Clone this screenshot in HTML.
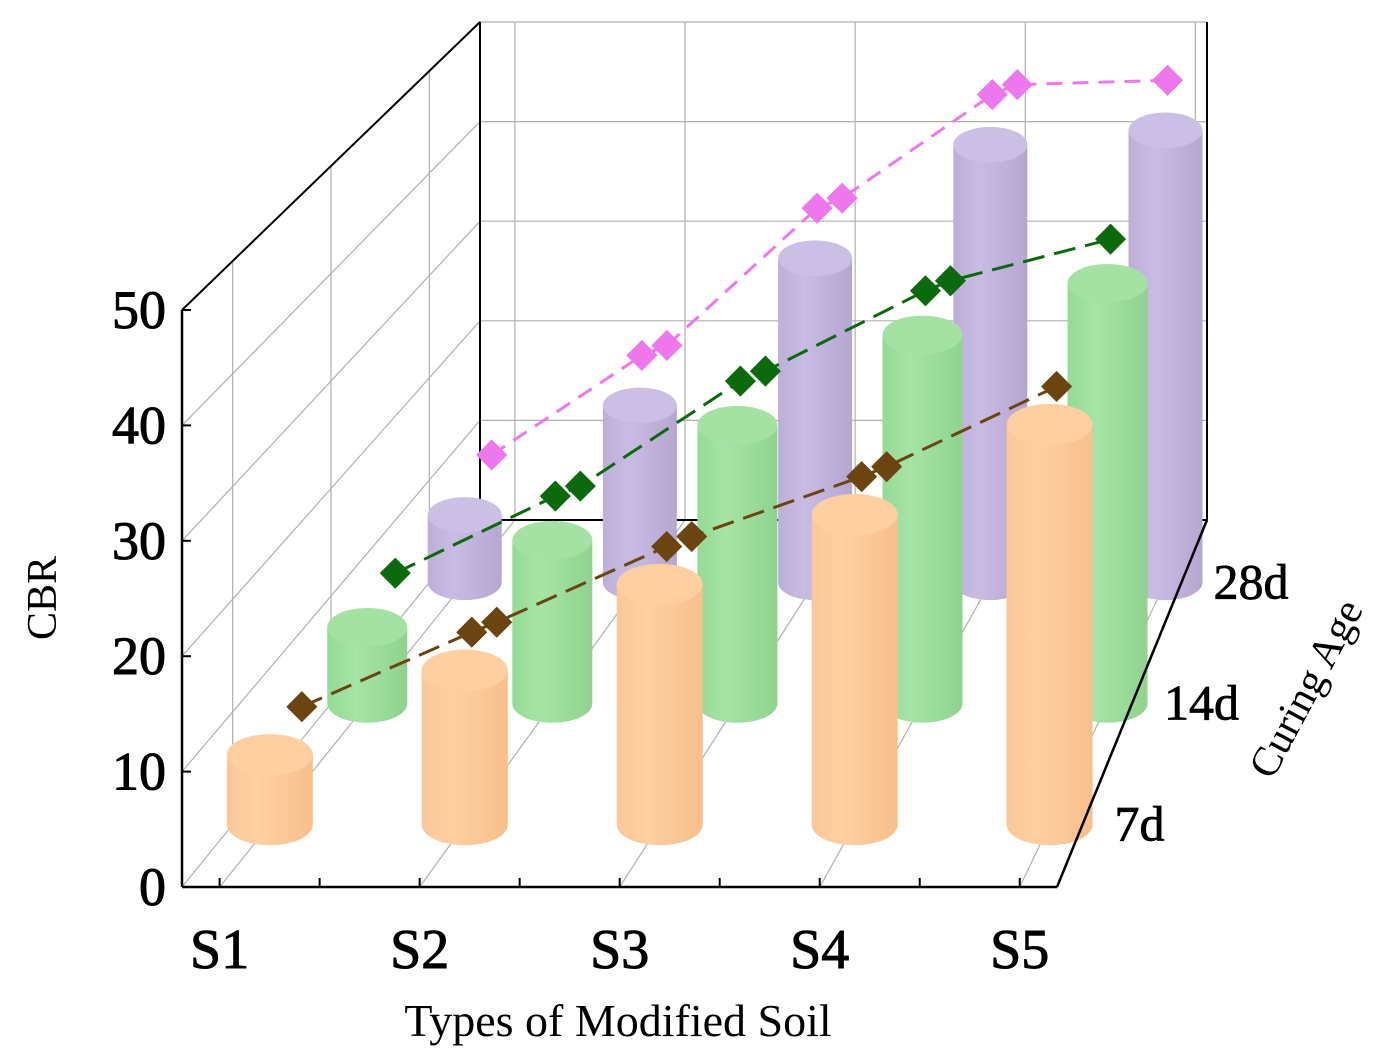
<!DOCTYPE html>
<html><head><meta charset="utf-8"><style>
html,body{margin:0;padding:0;background:#fff;}
svg{display:block;font-family:"Liberation Serif",serif;}
</style></head><body>
<svg id="chart" width="1382" height="1060" viewBox="0 0 1382 1060" xmlns="http://www.w3.org/2000/svg">
<defs>
<linearGradient id="gO" x1="0" x2="1"><stop offset="0" stop-color="#fbc798"/><stop offset="0.35" stop-color="#ffd0a2"/><stop offset="1" stop-color="#f7bf8c"/></linearGradient>
<linearGradient id="gG" x1="0" x2="1"><stop offset="0" stop-color="#94da94"/><stop offset="0.35" stop-color="#a6e4a6"/><stop offset="1" stop-color="#8fd28f"/></linearGradient>
<linearGradient id="gP" x1="0" x2="1"><stop offset="0" stop-color="#bcaed8"/><stop offset="0.35" stop-color="#c9bce3"/><stop offset="1" stop-color="#b6a6d2"/></linearGradient>
</defs>
<g id="grid"></g>
<g id="marks"></g>
<g id="axes"></g>
</svg>
<script>
const categories = ["S1","S2","S3","S4","S5"];
const ages = ["7d","14d","28d"];
const values7d = [6.2, 13.7, 21.3, 27.5, 35.5];
const values14d = [7.1, 15.2, 25.9, 34.3, 39.1];
const values28d = [6.6, 17.3, 31.7, 42.8, 44.2];
const yTicks = [0,10,20,30,40,50];

const NS = "http://www.w3.org/2000/svg";
function mk(tag, attrs, parent){const e=document.createElementNS(NS,tag);for(const k in attrs)e.setAttribute(k,attrs[k]);parent.appendChild(e);return e;}
const YMAX=50;
function proj(xi,v,d,xb){
  if(xb===undefined) xb=xi;
  const fx=182+xi*875, fy=887-v/YMAX*577;
  const bx=480+xb*727, by=520-v/YMAX*498;
  return [fx+(bx-fx)*d, fy+(by-fy)*d];
}
function catX(i){return 0.043+0.2286*i;}
function catXB(i){return 0.048+0.234*i;}
function cproj(i,v,d){return proj(catX(i),v,d,catXB(i));}
const depths=[0.17,0.5,0.83];
const grid=document.getElementById('grid'), marks=document.getElementById('marks'), axes=document.getElementById('axes');
const gc="#b0b0b0";
yTicks.forEach(t=>{const a=proj(0,t,1),b=proj(1,t,1);const l=mk('line',{x1:a[0],y1:a[1],x2:b[0],y2:b[1],stroke:gc,'stroke-width':1.2},grid);
});
categories.forEach((c,i)=>{const a=cproj(i,0,1),b=cproj(i,YMAX,1);const l=mk('line',{x1:a[0],y1:a[1],x2:b[0],y2:b[1],stroke:gc,'stroke-width':1.2},grid);
});
yTicks.forEach(t=>{const a=proj(0,t,0),b=proj(0,t,1);const l=mk('line',{x1:a[0],y1:a[1],x2:b[0],y2:b[1],stroke:gc,'stroke-width':1.2},grid);
});
depths.forEach(d=>{const a=proj(0,0,d),b=proj(0,YMAX,d);const l=mk('line',{x1:a[0],y1:a[1],x2:b[0],y2:b[1],stroke:gc,'stroke-width':1.2},grid);
});
categories.forEach((c,i)=>{const a=cproj(i,0,0),b=cproj(i,0,1);const l=mk('line',{x1:a[0],y1:a[1],x2:b[0],y2:b[1],stroke:gc,'stroke-width':1.2},grid);
});
[[[0,0,1],[0,YMAX,1]],[[0,YMAX,0],[0,YMAX,1]],[[0,0,1],[1,0,1]],[[1,0,1],[1,0,0]],[[1,0,1],[1,YMAX,1]]].forEach(p=>{
 const a=proj(...p[0]),b=proj(...p[1]);const l=mk('line',{x1:a[0],y1:a[1],x2:b[0],y2:b[1],stroke:'#000','stroke-width':2},grid);
 });

const series=[
 {vals:values28d,d:0.83,fill:'url(#gP)',top:'#cbbfe6',w:74,mc:'#ee77ee',off:[27,-60],dash:'16,10',name:'28d'},
 {vals:values14d,d:0.5,fill:'url(#gG)',top:'#a4e2a4',w:80,mc:'#0b6a0b',off:[28,-54],dash:'22,10',name:'14d'},
 {vals:values7d,d:0.17,fill:'url(#gO)',top:'#ffcf9f',w:86,mc:'#6b4410',off:[32,-48],dash:'22,10',name:'7d'}
];
series.forEach(s=>{
 const g=mk('g',{},marks);
 
 
 const pts=[];
 s.vals.forEach((v,i)=>{
  const b=cproj(i,0,s.d), t=cproj(i,v,s.d);
  const w=s.w, ry=w*0.24;
  const bx=b[0], tx=t[0];
  const cyl=mk('path',{d:`M${bx-w/2},${b[1]} A${w/2},${ry} 0 0 0 ${bx+w/2},${b[1]} L${tx+w/2},${t[1]} L${tx-w/2},${t[1]} Z`,fill:s.fill},g);
  
  
  const top=mk('ellipse',{cx:tx,cy:t[1],rx:w/2,ry:ry,fill:s.top},g);
  
  
  const p2=[tx+s.off[0], t[1]+s.off[1]];
  const p1=[p2[0]-25, p2[1]+10];
  if(i>0) pts.push(p1);
  if(i<s.vals.length-1) pts.push(p2);
 });
 const ln=mk('polyline',{points:pts.map(p=>p.join(',')).join(' '),fill:'none',stroke:s.mc,'stroke-width':3,'stroke-dasharray':s.dash},g);
 
 
 pts.forEach(p=>{const m=mk('rect',{x:p[0]-11,y:p[1]-11,width:22,height:22,fill:s.mc,transform:`rotate(45 ${p[0]} ${p[1]})`},g);
  
  });
});

[[[0,0,0],[0,YMAX,0]],[[0,0,0],[1,0,0]],[[1,0,0],[1,0,1]]].forEach(p=>{
 const a=proj(...p[0]),b=proj(...p[1]);const l=mk('line',{x1:a[0],y1:a[1],x2:b[0],y2:b[1],stroke:'#000','stroke-width':2.5},axes);
 });
yTicks.forEach(t=>{const a=proj(0,t,0);
 const tk=mk('line',{x1:a[0],y1:a[1],x2:a[0]+9,y2:a[1],stroke:'#000','stroke-width':2},axes);
 
 const tx=mk('text',{x:a[0]-16,y:a[1]+18,'text-anchor':'end','font-size':54,stroke:'#000','stroke-width':1},axes);tx.textContent=t;
 });
categories.forEach((c,i)=>{const a=cproj(i,0,0);
 const tk=mk('line',{x1:a[0],y1:a[1],x2:a[0],y2:a[1]-9,stroke:'#000','stroke-width':2},axes);
 
 if(i<categories.length-1){const m=proj(catX(i)+0.1143,0,0);
  const t2=mk('line',{x1:m[0],y1:m[1],x2:m[0],y2:m[1]-9,stroke:'#000','stroke-width':2},axes);
  }
 const tx=mk('text',{x:a[0],y:968,'text-anchor':'middle','font-size':56,stroke:'#000','stroke-width':1},axes);tx.textContent=c;
 });
ages.forEach((a,i)=>{const p=proj(1,0,depths[i]);
 const tx=mk('text',{x:p[0]+32,y:p[1]+16,'font-size':50,stroke:'#000','stroke-width':0.8},axes);tx.textContent=a;
 });
</script>
<div style="position:absolute;left:0;top:0;width:1382px;height:1060px;pointer-events:none;">
<svg width="1382" height="1060" style="font-family:'Liberation Serif',serif;">
<text x="0" y="0" font-size="42" text-anchor="middle" transform="translate(56 598) rotate(-90)">CBR</text>
<text x="618" y="1036" font-size="46" text-anchor="middle">Types of Modified Soil</text>
<text x="0" y="0" font-size="42" text-anchor="middle" transform="translate(1318 695) rotate(-62)">Curing Age</text>
</svg></div>
</body></html>
